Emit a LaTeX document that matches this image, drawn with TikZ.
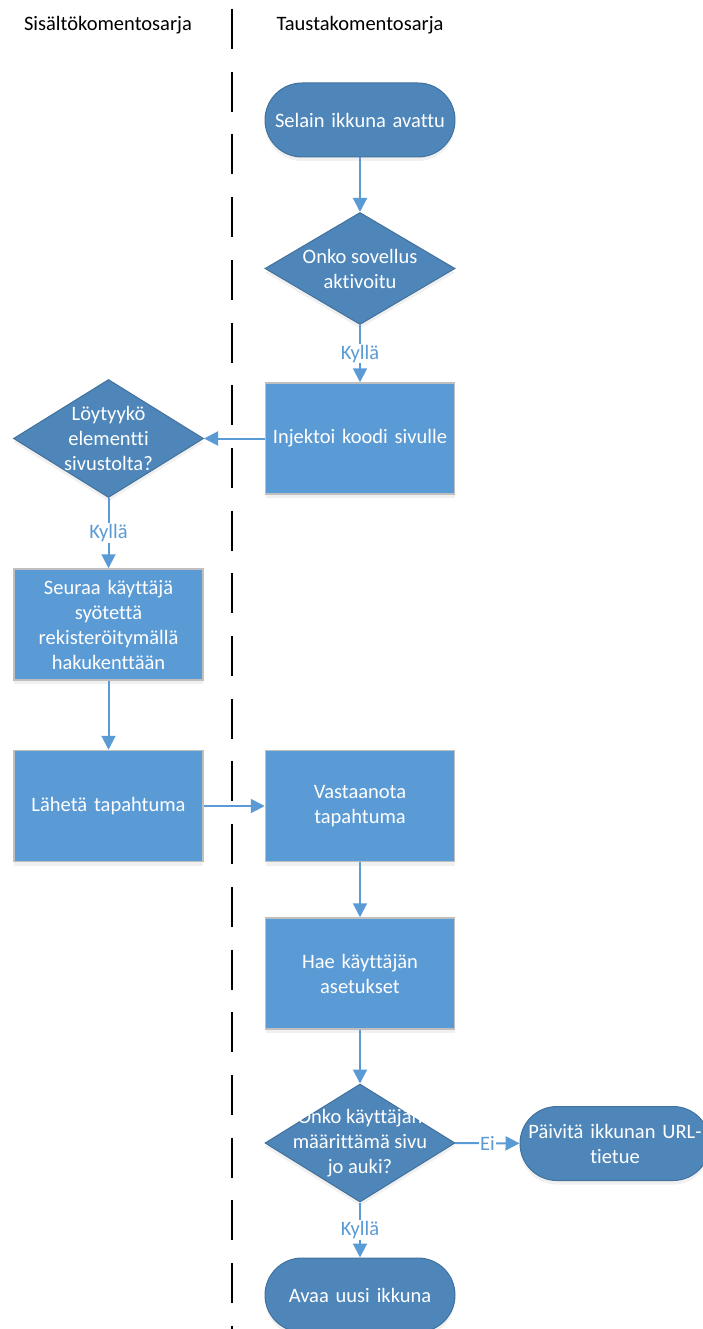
\documentclass[tikz,border=0pt]{standalone}
\usepackage{fontspec}
\setmainfont{Carlito}[Ligatures=NoCommon]
\usetikzlibrary{shapes.geometric,arrows.meta,shadows}
\definecolor{laatikko}{HTML}{5B9BD5}
\definecolor{paate}{HTML}{4E86BA}
\definecolor{paatereuna}{HTML}{41719C}
\definecolor{reuna}{HTML}{BFBFBF}
\begin{document}
\begin{tikzpicture}[x=1pt,y=-1pt,font=\fontsize{20.5}{25}\selectfont]
		\tikzstyle{varjo}=[drop shadow={opacity=0.12,shadow xshift=0pt,shadow yshift=-4pt}]
		\tikzstyle{prosessi}=[rectangle,fill=laatikko,draw=reuna,line width=1.5pt,minimum width=189pt,minimum height=111pt,text width=180pt,inner sep=0pt,align=center,text=white,varjo]
		\tikzstyle{terminaali}=[rectangle,rounded corners=37pt,fill=paate,draw=paatereuna,line width=1pt,minimum width=190pt,minimum height=74pt,text width=186pt,inner sep=0pt,align=center,text=white,varjo]
		\tikzstyle{paatos}=[diamond,fill=paate,draw=paatereuna,line width=1pt,minimum width=190pt,minimum height=112pt,inner sep=0pt,varjo]
		\tikzstyle{paatosteksti}=[text=white,align=center]
		\tikzstyle{nuoli}=[draw=laatikko,line width=2pt,-{Triangle[width=14pt,length=14pt]}]
		\tikzstyle{ehto}=[fill=white,text=laatikko,inner sep=1pt]
		\useasboundingbox (0,0) rectangle (702,1329);
		\node (sisalto) at (108,25) {Sisältökomentosarja};
		\node (tausta) at (360,25) {Taustakomentosarja};
		\coordinate (raja ylä) at (232,9);
		\coordinate (raja ala) at (232,1329);
		\draw[line width=2.5pt,dash pattern=on 40pt off 22.7pt] (raja ylä) -- (raja ala);
		\node[terminaali] (selain) at (360,120) {Selain ikkuna avattu};
		\node[paatos,label={[paatosteksti]center:Onko sovellus\\aktivoitu}] (aktivoitu) at (360,268.5) {};
		\node[prosessi] (injektoi) at (360,438.5) {Injektoi koodi sivulle};
		\node[paatos,minimum height=118pt,label={[paatosteksti]center:Löytyykö\\elementti\\sivustolta?}] (loytyyko) at (108.5,438.5) {};
		\node[prosessi] (seuraa) at (108.5,624.5) {Seuraa käyttäjä\\syötettä\\rekisteröitymällä\\hakukenttään};
		\node[prosessi] (laheta) at (108.5,806) {Lähetä tapahtuma};
		\node[prosessi] (vastaanota) at (360,806) {Vastaanota\\tapahtuma};
		\node[prosessi] (hae) at (360,973.5) {Hae käyttäjän\\asetukset};
		\node[paatos,minimum height=118pt,label={[paatosteksti]center:Onko käyttäjän\\määrittämä sivu\\jo auki?}] (auki) at (360,1143) {};
		\node[terminaali] (paivita) at (615,1143.5) {Päivitä ikkunan URL-\\tietue};
		\node[terminaali] (avaa) at (360,1295) {Avaa uusi ikkuna};
		\draw[nuoli] (selain) -- (aktivoitu);
		\draw[nuoli] (aktivoitu) -- node[ehto] {Kyllä} (injektoi);
		\draw[nuoli] (injektoi) -- (loytyyko);
		\draw[nuoli] (loytyyko) -- node[ehto] {Kyllä} (seuraa);
		\draw[nuoli] (seuraa) -- (laheta);
		\draw[nuoli] (laheta) -- (vastaanota);
		\draw[nuoli] (vastaanota) -- (hae);
		\draw[nuoli] (hae) -- (auki);
		\draw[nuoli] (auki) -- node[ehto] {Ei} (paivita);
		\draw[nuoli] (auki) -- node[ehto] {Kyllä} (avaa);
\end{tikzpicture}
\end{document}
